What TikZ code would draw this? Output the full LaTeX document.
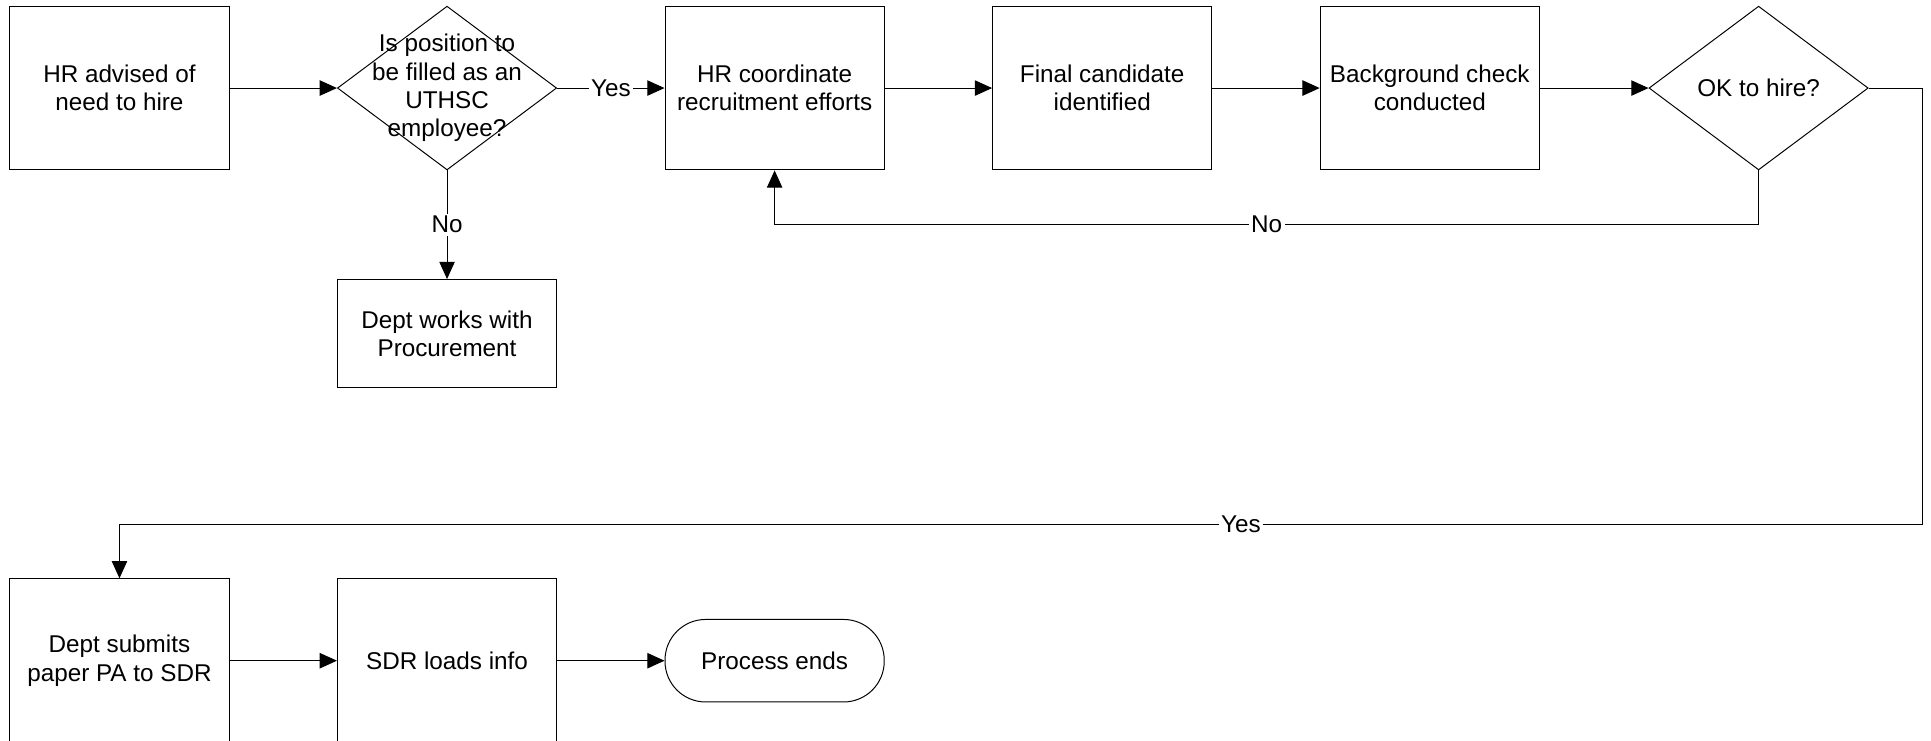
\documentclass[tikz,border=0pt]{standalone}
\usepackage{fontspec}
\setmainfont{Liberation Sans}
\usetikzlibrary{shapes.geometric,arrows.meta}
\tikzset{
  box/.style={draw,line width=0.8pt,minimum width=178pt,minimum height=133pt,align=center,inner sep=0pt},
  dec/.style={draw,diamond,line width=0.8pt,minimum width=178pt,minimum height=133pt,inner sep=0pt},
  term/.style={draw,rounded corners=33pt,line width=0.8pt,minimum width=178pt,minimum height=67pt,align=center},
  lbl/.style={fill=white,inner sep=2pt},
  arr/.style={line width=0.8pt,-{Triangle[length=14pt,width=12.5pt]}}
}
\begin{document}
\begin{tikzpicture}[x=1pt,y=1pt,every node/.style={font=\fontsize{19.7}{23}\selectfont}]
\useasboundingbox (0,0) rectangle (1568,-601.7);
% top row
\node[box] (hr) at (97,-71.5) {HR advised of\\need to hire};
\node[dec,label={[align=center]center:Is position to\\be filled as an\\UTHSC\\employee?}] (pos) at (363,-71.5) {};
\node[box] (coord) at (629,-71.5) {HR coordinate\\recruitment efforts};
\node[box] (final) at (895,-71.5) {Final candidate\\identified};
\node[box] (bg) at (1161,-71.5) {Background check\\conducted};
\node[dec,label=center:OK to hire?] (ok) at (1428,-71.5) {};
\node[box,minimum height=88pt] (proc) at (363,-271) {Dept works with\\Procurement};
% bottom row
\node[box] (sub) at (97,-536.5) {Dept submits\\paper PA to SDR};
\node[box] (sdr) at (363,-536.5) {SDR loads info};
\node[term] (end) at (629,-536.5) {Process ends};
\coordinate (yr) at (1561,-426);
% connectors
\draw[arr] (hr) -- (pos);
\draw[arr] (pos) -- node[lbl]{Yes} (coord);
\draw[arr] (coord) -- (final);
\draw[arr] (final) -- (bg);
\draw[arr] (bg) -- (ok);
\draw[arr] (pos) -- node[lbl]{No} (proc);
\draw[arr] (ok.south) -- ++(0,-44) -| node[lbl,pos=0.25]{No} (coord.south);
\draw[arr] (ok.east) -| (yr) -- node[lbl,pos=0.378]{Yes} (yr -| sub.north) -- (sub.north);
\draw[arr] (sub) -- (sdr);
\draw[arr] (sdr) -- (end);
\end{tikzpicture}
\end{document}
